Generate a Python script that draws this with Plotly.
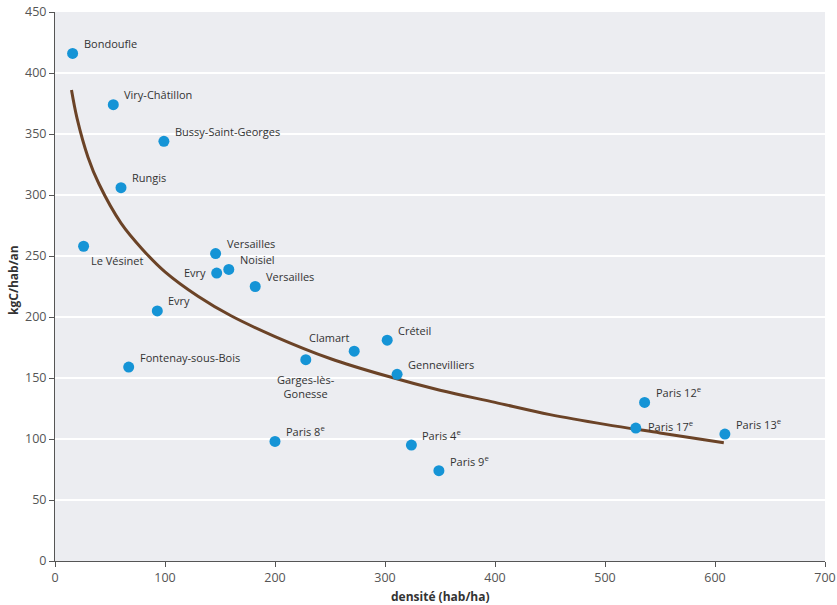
import plotly.graph_objects as go

# ---- data ----
communes = ["Bondoufle", "Viry-Châtillon", "Bussy-Saint-Georges", "Rungis", "Le Vésinet",
            "Versailles", "Evry", "Noisiel", "Versailles", "Evry", "Fontenay-sous-Bois",
            "Garges-lès-<br>Gonesse", "Clamart", "Créteil", "Gennevilliers",
            "Paris 8<sup>e</sup>", "Paris 4<sup>e</sup>", "Paris 9<sup>e</sup>",
            "Paris 12<sup>e</sup>", "Paris 17<sup>e</sup>", "Paris 13<sup>e</sup>"]
densite = [16, 53, 99, 60, 26, 146, 147, 158, 182, 93, 67, 228, 272, 302, 311,
           200, 324, 349, 536, 528, 609]
emissions = [416, 374, 344, 306, 258, 252, 236, 239, 225, 205, 159, 165, 172, 181, 153,
             98, 95, 74, 130, 109, 104]

# trend curve
curve_x = [15, 20, 30, 40, 60, 80, 100, 130, 160, 200, 250, 300, 350, 400, 450, 500, 550, 608]
curve_y = [386, 363, 331, 309, 277, 255, 237, 217, 201, 184, 166, 152, 140, 130, 120, 112, 105, 97]

x_ticks = [0, 100, 200, 300, 400, 500, 600, 700]
y_ticks = [0, 50, 100, 150, 200, 250, 300, 350, 400, 450]

x_title = "densité (hab/ha)"
y_title = "kgC/hab/an"

# ---- label placement (style) ----
label_style = {
    "Le Vésinet": dict(xanchor="left", yanchor="middle", xshift=5, yshift=-14),
    "Evry_left": dict(xanchor="right", yanchor="middle", xshift=-9, yshift=1),
    "Garges": dict(xanchor="center", yanchor="top", xshift=0, yshift=-10),
    "Clamart": dict(xanchor="right", yanchor="middle", xshift=-2, yshift=14),
    "Paris 17": dict(xanchor="left", yanchor="middle", xshift=10, yshift=2),
}
default_style = dict(xanchor="left", yanchor="middle", xshift=9, yshift=10)

FONT = "Open Sans, sans-serif"

fig = go.Figure()
fig.add_trace(go.Scatter(x=curve_x, y=curve_y, mode="lines",
                         line=dict(color="#6B4327", width=3, shape="spline"),
                         hoverinfo="skip", showlegend=False))
fig.add_trace(go.Scatter(x=densite, y=emissions, mode="markers",
                         marker=dict(color="#1594D6", size=11),
                         showlegend=False))

for name, xv, yv in zip(communes, densite, emissions):
    if name == "Le Vésinet":
        st = label_style["Le Vésinet"]
    elif name == "Evry" and yv > 230:
        st = label_style["Evry_left"]
    elif name.startswith("Garges"):
        st = label_style["Garges"]
    elif name == "Clamart":
        st = label_style["Clamart"]
    elif name.startswith("Paris 17"):
        st = label_style["Paris 17"]
    else:
        st = default_style
    fig.add_annotation(x=xv, y=yv, text=name, showarrow=False,
                       font=dict(family=FONT, size=11, color="#333333"),
                       align="center", **st)

# axis titles
fig.add_annotation(xref="paper", yref="paper", x=0.5, y=0, yanchor="middle",
                   yshift=-35, text="<b>" + x_title + "</b>", showarrow=False,
                   font=dict(family=FONT, size=12, color="#333"))
fig.add_annotation(xref="paper", yref="paper", x=0, y=0.512, xanchor="center",
                   yanchor="middle", xshift=-41, textangle=-90,
                   text="<b>" + y_title + "</b>", showarrow=False,
                   font=dict(family=FONT, size=12, color="#333"))

fig.update_layout(
    width=837, height=605,
    margin=dict(l=55, r=12, t=12, b=44, autoexpand=False),
    paper_bgcolor="white",
    plot_bgcolor="#ECEDF1",
    font=dict(family=FONT, color="#444"),
    xaxis=dict(range=[0, 700], tickvals=x_ticks, showgrid=False, zeroline=False,
               automargin=False,
               showline=True, linecolor="#555", linewidth=1,
               ticks="outside", ticklen=5, tickcolor="#555",
               tickfont=dict(size=12.5, color="#555")),
    yaxis=dict(range=[0, 450], tickvals=y_ticks, showgrid=True, gridcolor="white",
               gridwidth=1.5, zeroline=False, automargin=False,
               showline=True, linecolor="#555", linewidth=1,
               ticks="outside", ticklen=5, tickcolor="#555",
               tickfont=dict(size=12.5, color="#555")),
)

fig.write_html("out.html")
